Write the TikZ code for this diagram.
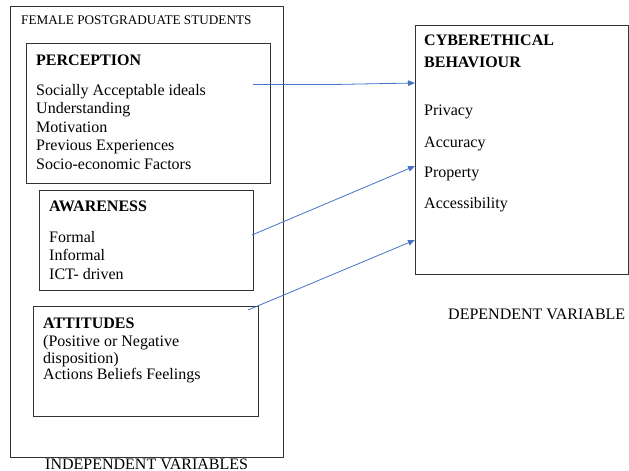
\documentclass[tikz,border=0pt]{standalone}
\usepackage{fontspec}
\setmainfont{Liberation Serif}
\usetikzlibrary{arrows.meta}
\definecolor{linkblue}{HTML}{4472C4}
\definecolor{frame}{HTML}{333333}
\begin{document}
\begin{tikzpicture}[x=1pt,y=-1pt,
  panel/.style={draw=frame,line width=0.9pt,anchor=north west,inner sep=0pt},
  txt/.style={anchor=base west,inner sep=0pt,font=\fontsize{16}{18.5}\selectfont},
  head/.style={txt,font=\fontsize{16}{18.5}\selectfont\bfseries},
  small/.style={anchor=base west,inner sep=0pt,font=\fontsize{13.2}{15}\selectfont},
  link/.style={draw=linkblue,line width=0.8pt,-{Triangle[length=7pt,width=5.5pt]}}]
\useasboundingbox (0,0) rectangle (629,471);

% independent side: outer frame and its three groups
\node[panel,minimum width=273pt,minimum height=451pt] (students) at (10,6) {};
\node[small] (studentslabel) at (21,24) {FEMALE POSTGRADUATE STUDENTS};

\node[panel,minimum width=244pt,minimum height=140pt] (perception) at (26,43) {};
\node[head] (perhead) at (36,65) {PERCEPTION};
\node[txt] (per1) at (36,95) {Socially Acceptable ideals};
\node[txt] (per2) at (36,113.5) {Understanding};
\node[txt] (per3) at (36,132) {Motivation};
\node[txt] (per4) at (36,150.5) {Previous Experiences};
\node[txt] (per5) at (36,169) {Socio-economic Factors};

\node[panel,minimum width=214pt,minimum height=100pt] (awareness) at (39,190) {};
\node[head] (awhead) at (49,211) {AWARENESS};
\node[txt] (aw1) at (49,242) {Formal};
\node[txt] (aw2) at (49,260.5) {Informal};
\node[txt] (aw3) at (49,279) {ICT- driven};

\node[panel,minimum width=225pt,minimum height=110pt] (attitudes) at (33,306) {};
\node[head] (athead) at (43,328) {ATTITUDES};
\node[txt] (at1) at (43,346) {(Positive or Negative};
\node[txt] (at2) at (43,363) {disposition)};
\node[txt] (at3) at (43,379) {Actions Beliefs Feelings};

\node[txt] (indep) at (45,469) {INDEPENDENT VARIABLES};

% dependent side
\node[panel,minimum width=213pt,minimum height=249pt] (cyber) at (415,25) {};
\node[head] (cyhead1) at (424,45) {CYBERETHICAL};
\node[head] (cyhead2) at (424,67) {BEHAVIOUR};
\node[txt] (cy1) at (424,115) {Privacy};
\node[txt] (cy2) at (424,147) {Accuracy};
\node[txt] (cy3) at (424,177) {Property};
\node[txt] (cy4) at (424,208) {Accessibility};
\node[txt] (dep) at (448,319) {DEPENDENT VARIABLE};

% connectors
\coordinate (fromper) at (253,84.5);
\coordinate (bendper) at (333,84.5);
\coordinate (toper) at (cyber.west |- 0,83);
\coordinate (fromaw) at (252,235);
\coordinate (toaw) at (cyber.west |- 0,166);
\coordinate (fromat) at (248,310);
\coordinate (toat) at (cyber.west |- 0,240);
\draw[link] (fromper) -- (bendper) -- (toper);
\draw[link] (fromaw) -- (toaw);
\draw[link] (fromat) -- (toat);
\end{tikzpicture}
\end{document}
